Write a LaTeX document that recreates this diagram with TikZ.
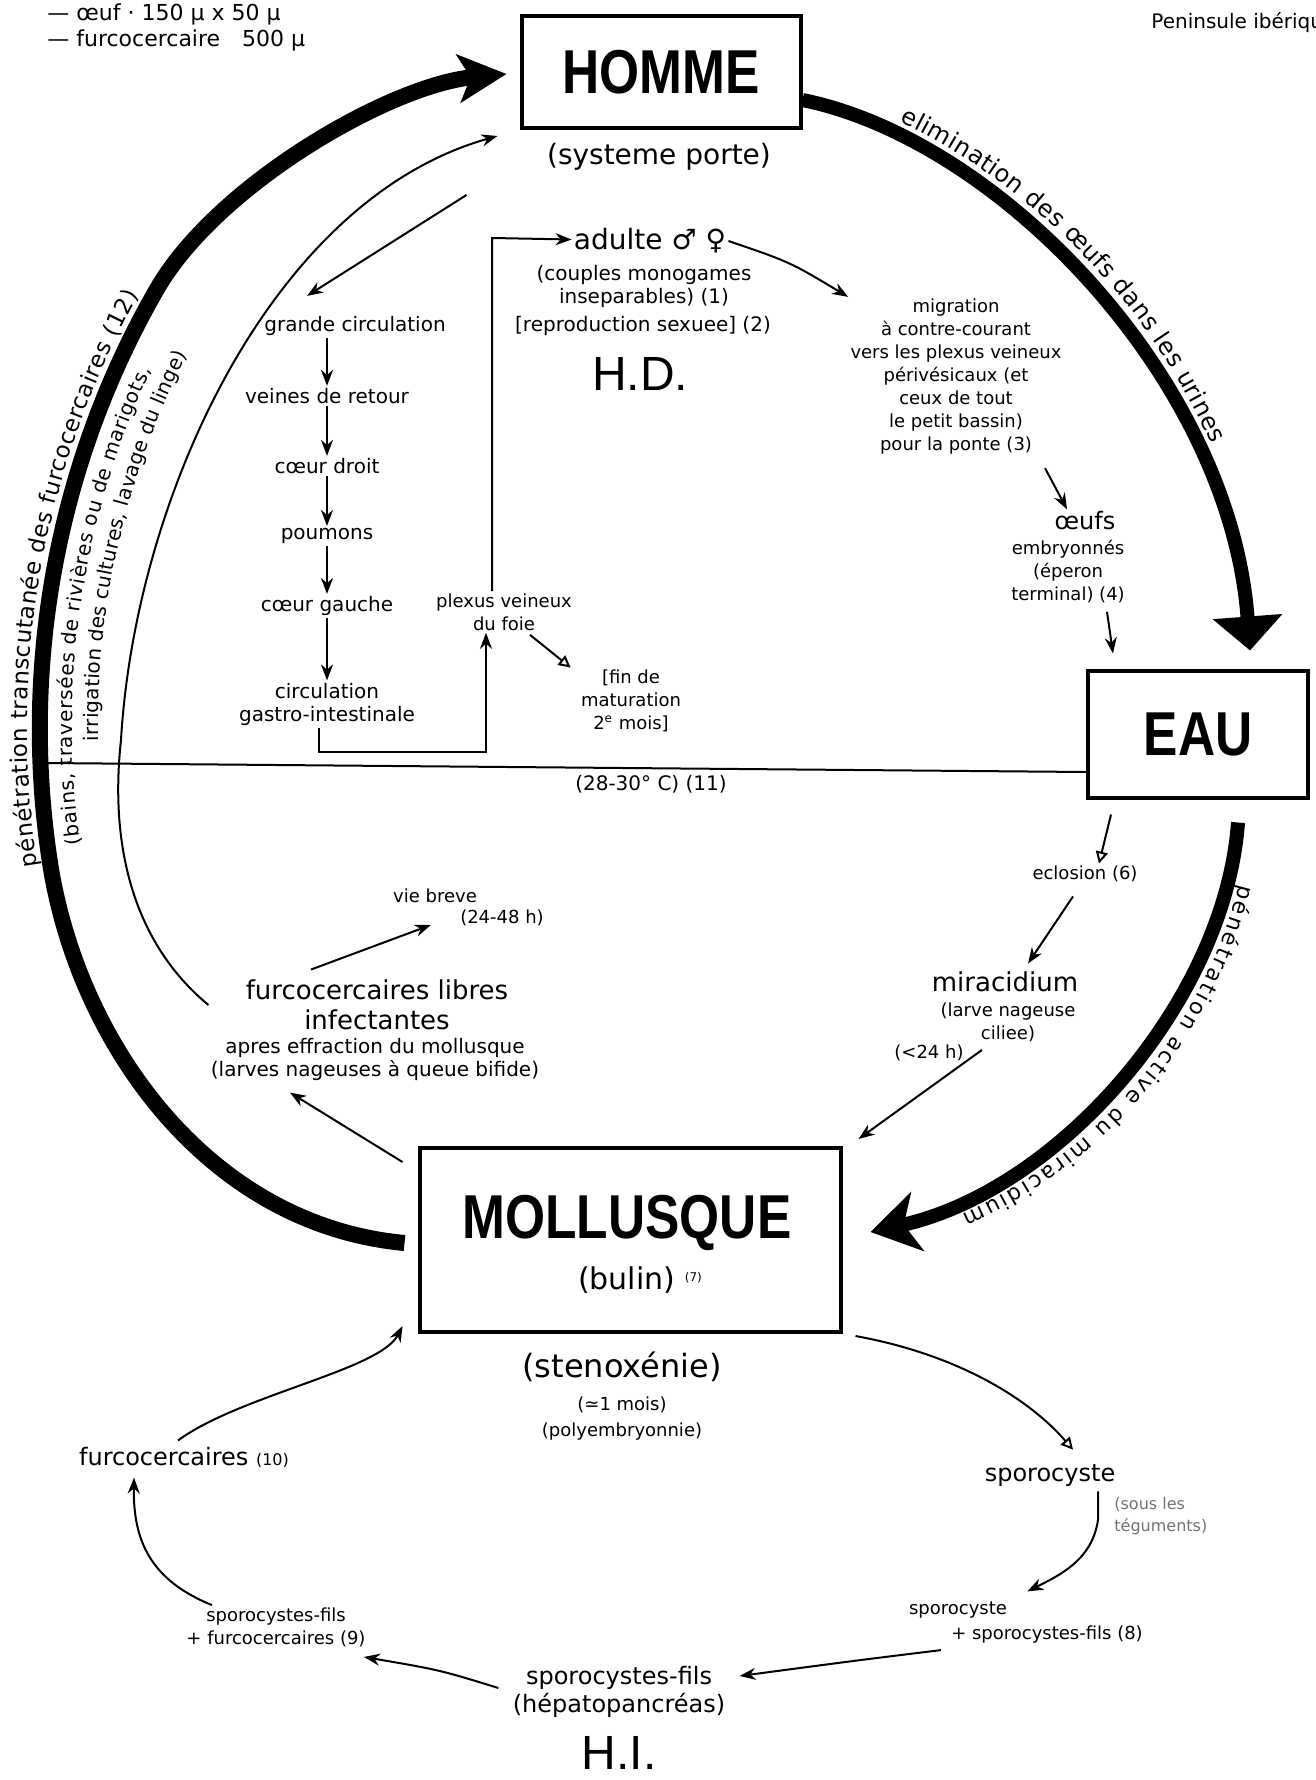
\documentclass[tikz,border=0pt]{standalone}
\usepackage{fontspec}
\setmainfont{DejaVu Sans}
\newfontfamily\hostfont[FakeStretch=0.83]{Liberation Sans}
\newfontfamily\hdfont{Liberation Sans}
\usetikzlibrary{positioning,arrows.meta,decorations.text}

\begin{document}
\begin{tikzpicture}[%
      x=0.5pt, y=-0.5pt,           % one unit is one pixel of the scan, y going down
      >={Stealth[length=8pt,width=6pt]},
      node distance=35pt,          % spacing of the blood route column
      every node/.style={inner sep=1pt},
      ]
  \tikzset{
    host/.style={draw, line width=2pt, inner sep=0pt},
    hname/.style={font=\hostfont\bfseries\fontsize{31}{31}\selectfont},
    txtxs/.style={align=center, font=\fontsize{9}{11.5}\selectfont},
    txts/.style={align=center, font=\fontsize{10}{11.5}\selectfont},
    txtm/.style={align=center, font=\fontsize{12}{14}\selectfont},
    txtl/.style={align=center, font=\fontsize{13}{15}\selectfont},
    txthd/.style={anchor=base, font=\hdfont\fontsize{24}{24}\selectfont},
    norm/.style={->, line width=1pt},
    hollow/.style={-{Triangle[open,length=6pt,width=6pt]}, line width=1pt},
    cycle/.style={line width=7pt},
  }
  \useasboundingbox (0,0) rectangle (1315,1780);

  % Legend and cut heading
  \node[anchor=west, font=\fontsize{11}{13}\selectfont] (egg)  at (45,14) {— œuf · 150 µ x 50 µ};
  \node[anchor=west, font=\fontsize{11}{13}\selectfont] (cerc) at (45,40) {— furcocercaire\quad 500 µ};
  \node[anchor=west, txts] (penin) at (1149,23) {Peninsule ibérique};

  % The three hosts
  \node[host, hname, minimum width=139.5pt, minimum height=56pt] (homme) at (661,72) {HOMME};
  \node[host, hname, minimum width=110pt, minimum height=63.5pt] (eau) at (1198,734) {EAU};
  \node[host, minimum width=210.5pt, minimum height=92pt] (moll) at (630,1240) {};
  \node[hname] (mollname) at (627,1223) {MOLLUSQUE};
  \node[font=\fontsize{15}{15}\selectfont] (bulin) at (640,1280) {(bulin) \raisebox{4pt}{\fontsize{6}{6}\selectfont(7)}};

  % Definitive host
  \node[txtm, font=\fontsize{14}{16}\selectfont] (porte) at (659,157) {(systeme porte)};
  \node[font=\fontsize{14}{16}\selectfont] (adu) at (650,241) {adulte ♂ ♀};
  \node[txts] (couple) at (644,286) {(couples monogames\\inseparables) (1)};
  \node[txts] (repro) at (643,326) {[reproduction sexuee] (2)};
  \node[txthd] (hd) at (640,391) {H.D.};

  \node[txts] (gc) at (355,326) {grande circulation};
  \node[txts, on grid, below=of gc, xshift=-14pt] (vr) {veines de retour};
  \node[txts, on grid, below=of vr] (cd) {cœur droit};
  \node[txts, on grid, below=of cd] (pou) {poumons};
  \node[txts, on grid, below=of pou] (cg) {cœur gauche};
  \node[txts, on grid, below=49pt of cg] (cgi) {circulation\\gastro-intestinale};

  \node[txtxs] (plx) at (504,612) {plexus veineux\\du foie};
  \node[txtxs] (fin) at (631,701) {[fin de\\maturation\\2\textsuperscript{e} mois]};

  \node[txtxs] (mig) at (956,377) {migration\\à contre-courant\\vers les plexus veineux\\périvésicaux (et\\ceux de tout\\le petit bassin)\\pour la ponte (3)};
  \node[txtm] (oeufs) at (1085,521) {œufs};
  \node[txtxs] (emb) at (1068,571) {embryonnés\\(éperon\\terminal) (4)};

  \node[txts] (temp) at (651,784) {(28-30° C) (11)};

  % Water and intermediate host
  \node[txtxs] (ecl) at (1085,874) {eclosion (6)};
  \node[txtl] (mira) at (1005,982) {miracidium};
  \node[txtxs] (larve) at (1008,1022) {(larve nageuse\\ciliee)};
  \node[txtxs] (lt24) at (929,1053) {(<24 h)};

  \node[txtl] (libres) at (377,1005) {furcocercaires libres\\infectantes};
  \node[txts] (effr) at (375,1059) {apres effraction du mollusque\\(larves nageuses à queue bifide)};
  \node[txtxs] (vie) at (435,896) {vie breve};
  \node[txtxs] (vie2) at (502,918) {(24-48 h)};

  \node[font=\fontsize{16}{18}\selectfont] (steno) at (622,1367) {(stenoxénie)};
  \node[txtxs] (mois) at (622,1405) {(≃1 mois)};
  \node[txtxs] (poly) at (622,1432) {(polyembryonnie)};

  \node[txtm] (spo) at (1050,1476) {sporocyste};
  \node[txtxs, anchor=west, align=left, text=black!55, font=\fontsize{8}{11}\selectfont] (sous) at (1112,1516) {(sous les\\téguments)};
  \node[txtxs] (spoa) at (958,1610) {sporocyste};
  \node[txtxs] (spob) at (1047,1635) {+ sporocystes-fils (8)};
  \node[txtm] (fils) at (619,1692) {sporocystes-fils\\(hépatopancréas)};
  \node[txthd] (hi) at (619,1769) {H.I.};
  \node[txtxs] (filsf) at (276,1627) {sporocystes-fils\\+ furcocercaires (9)};
  \node[txtm] (furco) at (184,1457) {furcocercaires {\fontsize{8}{8}\selectfont(10)}};

  % Great cycle
  \draw[cycle, -{Triangle[length=17pt,width=34pt]}] ([yshift=-14pt]homme.east)
    .. controls (1000,140) and (1230,380) .. ([xshift=26pt,yshift=9pt]eau.north);
  \draw[cycle, -{Stealth[length=24pt,width=30pt,inset=7pt]}] ([xshift=20pt,yshift=-11.5pt]eau.south)
    .. controls (1225,1000) and (1060,1190) .. ([xshift=14pt,yshift=4pt]moll.east);
  \draw[cycle, line width=8pt, -{Stealth[length=24pt,width=24pt,inset=6pt]}] ([xshift=-6.5pt,yshift=-1.5pt]moll.west)
    .. controls (210,1225) and (81,1047) .. (51,869)
    .. controls (19,670) and (56,464) .. (157,289)
    .. controls (217,185) and (390,85) .. ([xshift=-6.5pt,yshift=-1pt]homme.west);

  % Texts along the cycle
  \path[decorate, decoration={text along path, text align=fit to path,
      text={|\fontsize{11.5}{11.5}\selectfont|pénétration transcutanée des furcocercaires (12)}}]
    plot[domain=171:209, samples=40] ({918+891*cos(\x)},{727+891*sin(\x)});
  \path[decorate, decoration={text along path, text align=fit to path,
      text={|\fontsize{10}{10}\selectfont|(bains, traversées de rivières ou de marigots,}}]
    plot[domain=172:205, samples=40] ({918+846*cos(\x)},{727+846*sin(\x)});
  \path[decorate, decoration={text along path, text align=fit to path,
      text={|\fontsize{10}{10}\selectfont|irrigation des cultures, lavage du linge)}}]
    plot[domain=179:207, samples=40] ({918+820*cos(\x)},{727+820*sin(\x)});
  \path[decorate, decoration={text along path, text align=fit to path,
      text={|\fontsize{12}{12}\selectfont|elimination des œufs dans les urines}}]
    plot[domain=-64:-24, samples=40] ({612+656*cos(\x)},{711+656*sin(\x)});
  \path[decorate, decoration={text along path, text align=fit to path,
      text={|\fontsize{11}{11}\selectfont|pénétration active du miracidium}}]
    plot[domain=14:66, samples=40] ({762+492*cos(\x)},{765+492*sin(\x)});

  % Inside man
  \coordinate (tturn) at (121,740);
  \draw[norm] ([xshift=-17.5pt]libres.west)
    .. controls (130,940) and (110,840) .. (tturn)
    .. controls (135,500) and (270,200) .. ([xshift=-11pt,yshift=-3pt]homme.south west);
  \draw[norm] ([xshift=-26.5pt,yshift=-32.5pt]homme.south west) -- ([xshift=-24pt,yshift=9pt]gc.north);
  \draw[norm] (gc.south -| vr) -- (vr);
  \draw[norm] (vr) -- (cd);
  \draw[norm] (cd) -- (pou);
  \draw[norm] (pou) -- (cg);
  \draw[norm] (cg) -- (cgi);
  \coordinate (gbend) at (319,752);
  \coordinate (pbend) at (486,752);
  \draw[norm] (gbend |- cgi.south) -- (gbend) -- (pbend) -- (pbend |- plx.south);
  \draw[hollow] ([xshift=13pt,yshift=-1pt]plx.south) -- ([xshift=-4pt]fin.north west);
  \coordinate (pup) at (492,238);
  \draw[norm] (pup |- plx.north) -- (pup) -- (adu);
  \draw[norm] (adu.east) .. controls (790,262) .. (mig.north west);
  \draw[norm] ([xshift=44.5pt,yshift=-5.5pt]mig.south) -- ([xshift=-9pt]oeufs.north);
  \draw[norm] ([xshift=19.5pt,yshift=-3.5pt]emb.south) -- ([xshift=-42.5pt,yshift=7.5pt]eau.north);

  % Water line
  \coordinate (hleft) at (45,763);
  \draw[line width=1pt] (hleft) -- ([yshift=-19pt]eau.west);

  % Water to snail
  \draw[hollow] ([xshift=-43.5pt,yshift=-7.5pt]eau.south) -- ([xshift=7pt]ecl.north);
  \draw[norm] ([xshift=-6pt,yshift=-6pt]ecl.south) -- ([xshift=11.5pt,yshift=3pt]mira.north);
  \draw[norm] ([xshift=-13pt,yshift=-3pt]larve.south) -- ([xshift=8pt,yshift=3.5pt]moll.north east);
  \draw[norm] ([xshift=-7.5pt,yshift=-8pt]moll.north west) -- ([xshift=-42.5pt,yshift=-5pt]effr.south);
  \draw[norm] ([xshift=-33pt,yshift=4pt]libres.north) -- ([xshift=-13.5pt,yshift=-3.5pt]vie2.west);

  % Inside the snail
  \draw[hollow] ([xshift=6.5pt,yshift=-1pt]moll.south east)
    .. controls (960,1355) and (1030,1400) .. ([xshift=11.5pt,yshift=6.5pt]spo.north);
  \coordinate (spobend) at (1098,1520);
  \draw[norm] ([xshift=24pt,yshift=-1pt]spo.south) -- (spobend)
    .. controls (1092,1560) and (1060,1575) .. ([xshift=9pt,yshift=4pt]spoa.north east);
  \draw[norm] ([xshift=-4pt,yshift=-2pt]spob.south west) .. controls (860,1660) .. ([xshift=6pt,yshift=-6pt]fils.north east);
  \draw[norm] ([xshift=-6pt,yshift=-12pt]fils.north west) .. controls (440,1670) .. ([xshift=-2pt,yshift=-4pt]filsf.south east);
  \draw[norm] ([xshift=-32pt,yshift=0pt]filsf.north)
    .. controls (150,1580) and (133,1540) .. ([xshift=-25pt,yshift=-4pt]furco.south);
  \draw[norm] ([xshift=-3pt,yshift=2pt]furco.north)
    .. controls (240,1395) and (380,1370) .. ([xshift=-7.5pt,yshift=4pt]moll.south west);
\end{tikzpicture}
\end{document}
